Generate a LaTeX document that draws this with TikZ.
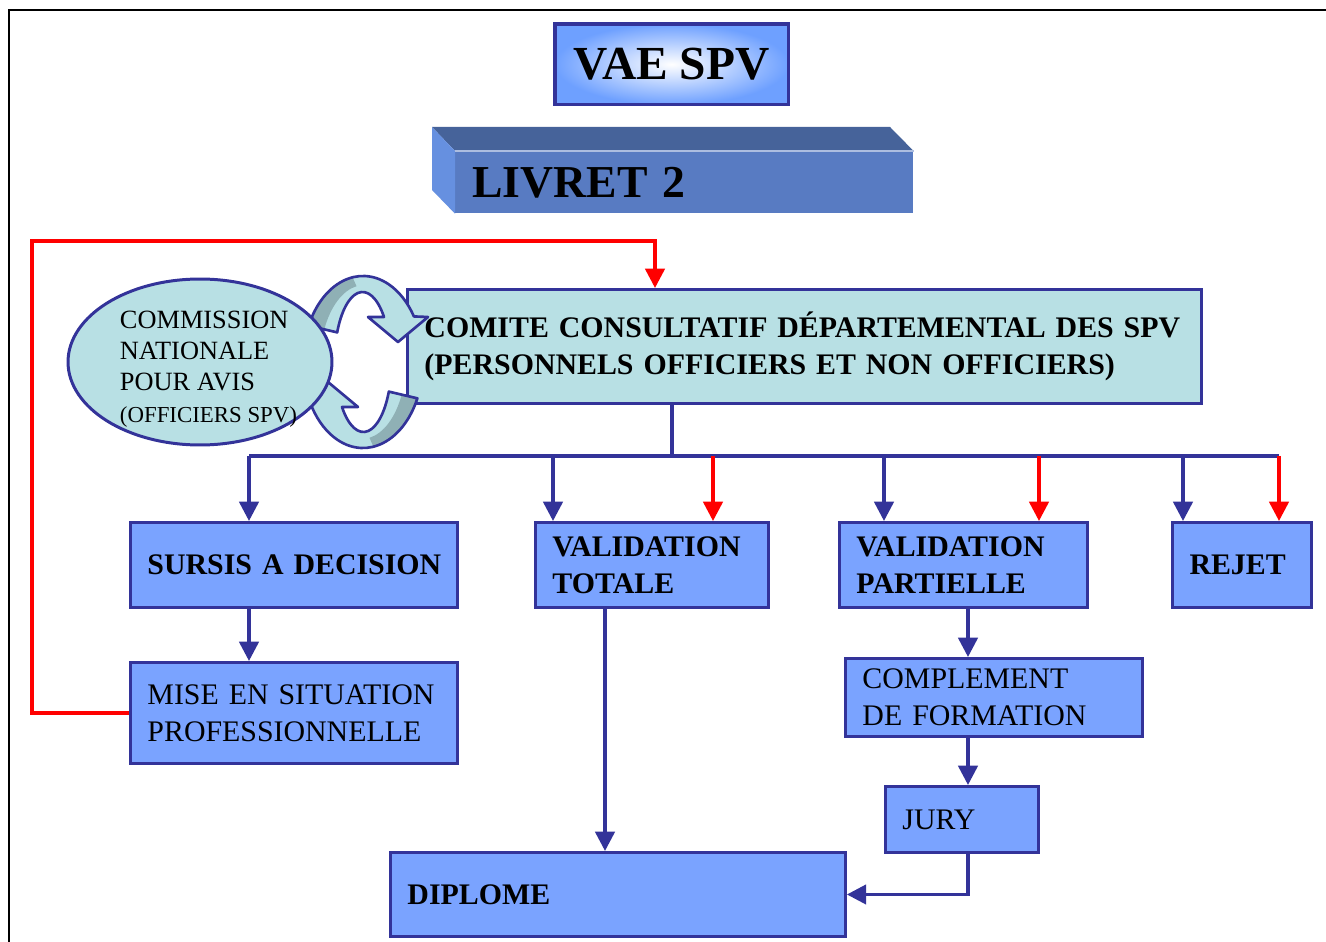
\documentclass[tikz,border=0pt]{standalone}
\usepackage{fontspec}
\setmainfont{Liberation Serif}
\usetikzlibrary{positioning}
\usetikzlibrary{arrows.meta}
\usetikzlibrary{shapes.geometric}

\definecolor{navy}{RGB}{51,51,153}
\definecolor{boxblue}{RGB}{122,163,255}
\definecolor{paleteal}{RGB}{184,224,228}
\definecolor{bandgray}{RGB}{143,176,181}
\definecolor{vaeblue}{RGB}{110,160,255}
\definecolor{livfront}{RGB}{88,123,194}
\definecolor{livtop}{RGB}{70,99,154}
\definecolor{livside}{RGB}{102,144,224}

\tikzset{
	btext/.style={font=\fontsize{17}{21}\selectfont\bfseries},
	ntext/.style={font=\fontsize{17}{21}\selectfont},
	bluebox/.style={draw=navy, line width=1.7pt, fill=boxblue, anchor=north west,
		inner xsep=0.34cm, inner ysep=0pt, align=left, text width=#1},
	bline/.style={draw=navy, line width=2pt},
	barrow/.style={bline, -{Triangle[length=11pt,width=11pt]}},
	rarrow/.style={draw=red, line width=2pt, -{Triangle[length=11pt,width=11pt]}},
}

\begin{document}
\begin{tikzpicture}[x=0.02cm, y=-0.02cm]
		\useasboundingbox (0,0) rectangle (1326,942);
		\draw[line width=1.1pt] (9,942) -- (9,10) -- (1326,10);
		
		% title and livret block
		\node[draw=navy, line width=2pt, inner color=white, outer color=vaeblue, anchor=north west, minimum width=4.68cm, minimum height=1.62cm, inner ysep=0pt, font=\fontsize{27}{30}\selectfont\bfseries] (vae) at (553,22) {VAE SPV};
		\node[fill=livfront, anchor=north west, text width=8.48cm, inner xsep=0.34cm, inner ysep=0pt, minimum height=1.24cm, font=\fontsize{26}{30}\selectfont\bfseries] (livret) at (455,151) {LIVRET 2};
		\fill[livtop] (livret.north west) -- ++(-23,-24) -- ++(458,0) -- (livret.north east) -- cycle;
		\fill[livside] (livret.north west) -- ++(-23,-24) -- ++(0,63) -- (livret.south west) -- cycle;
		\draw[livfront!50!white, line width=.6pt] (livret.north west) -- (livret.north east);
		
		\node[bluebox=15.2cm, fill=paleteal, minimum height=2.28cm, btext] (comite) at (406,288) {\mbox{COMITE CONSULTATIF DÉPARTEMENTAL DES SPV}\\(PERSONNELS OFFICIERS ET NON OFFICIERS)};
		
		% curved arrows
		\foreach \rot in {0,180} {
			\begin{scope}[rotate around={\rot:(363,362)}]
				\fill[paleteal] (363,362) ++(-155:60 and 86) arc[start angle=-155, end angle=-32, x radius=60, y radius=86] -- (428,317) -- (398,342) -- (368,317) -- (384,317) arc[start angle=-40, end angle=-155, x radius=28, y radius=70] -- cycle;
				\fill[bandgray] (363,362) ++(-155:60 and 86) arc[start angle=-155, end angle=-100, x radius=60, y radius=86] -- (356.5,286.2) arc[start angle=-100, end angle=-155, x radius=44, y radius=77] -- cycle;
				\draw[navy, line width=1.5pt, line join=round] (363,362) ++(-155:60 and 86) arc[start angle=-155, end angle=-32, x radius=60, y radius=86] -- (428,317) -- (398,342) -- (368,317) -- (384,317) arc[start angle=-40, end angle=-155, x radius=28, y radius=70] -- cycle;
			\end{scope}
		}
		
		\node[ellipse, draw=navy, line width=1.7pt, fill=paleteal, minimum width=5.28cm, minimum height=3.32cm] (cnat) at (200,362) {};
		\node[align=left, inner sep=0pt, font=\fontsize{15}{17.8}\selectfont] (cnattext) at ([xshift=0.17cm, yshift=-0.14cm]cnat.center) {COMMISSION\\NATIONALE\\POUR AVIS\\{\fontsize{13}{15}\selectfont(OFFICIERS SPV)}};
		
		% decisions
		\node[bluebox=5.86cm, minimum height=1.7cm, btext] (sursis) at (129,521) {\mbox{SURSIS A DECISION}};
		\node[bluebox=3.98cm, minimum height=1.7cm, btext] (vtot) at (534,521) {VALIDATION\\TOTALE};
		\node[bluebox=4.28cm, minimum height=1.7cm, btext] (vpart) at (838,521) {VALIDATION\\PARTIELLE};
		\node[bluebox=2.1cm, minimum height=1.7cm, btext] (rejet) at (1171,521) {REJET};
		\node[bluebox=5.86cm, minimum height=2.02cm, ntext] (mise) at (129,661) {MISE EN SITUATION\\PROFESSIONNELLE};
		\node[bluebox=5.26cm, minimum height=1.56cm, ntext] (compl) at (844,657) {COMPLEMENT\\DE FORMATION};
		\node[bluebox=2.38cm, minimum height=1.32cm, ntext] (jury) at (884,785) {JURY};
		\node[bluebox=8.42cm, minimum height=1.68cm, btext] (diplome) at (389,851) {DIPLOME};
		
		\coordinate (stem) at (672,456);
		\coordinate (b1) at (249,456);
		\coordinate (b2) at (553,456);
		\coordinate (r2) at (713,456);
		\coordinate (b3) at (884,456);
		\coordinate (r3) at (1039,456);
		\coordinate (b4) at (1183,456);
		\coordinate (r4) at (1279,456);
		\coordinate (vtx) at (605,0);
		\coordinate (vpx) at (968,0);
		\coordinate (loopL) at (32,241);
		\coordinate (loopR) at (655,241);
		
		\draw[bline] (stem |- comite.south) -- (stem);
		\draw[bline] (b1) -- (r4);
		\path (b1) edge[barrow] (b1 |- sursis.north);
		\path (b2) edge[barrow] (b2 |- vtot.north);
		\path (b3) edge[barrow] (b3 |- vpart.north);
		\path (b4) edge[barrow] (b4 |- rejet.north);
		\path (r2) edge[rarrow] (r2 |- vtot.north);
		\path (r3) edge[rarrow] (r3 |- vpart.north);
		\path (r4) edge[rarrow] (r4 |- rejet.north);
		
		\draw[barrow] (sursis.south -| b1) -- (mise.north -| b1);
		\draw[rarrow] (mise.west) -| (loopL) -- (loopR) -- (loopR |- comite.north);
		\draw[barrow] (vtot.south -| vtx) -- (diplome.north -| vtx);
		\draw[barrow] (vpart.south -| vpx) -- (compl.north -| vpx);
		\draw[barrow] (compl.south -| vpx) -- (jury.north -| vpx);
		\draw[barrow] (jury.south -| vpx) |- (diplome.east);
	\end{tikzpicture}
\end{document}
